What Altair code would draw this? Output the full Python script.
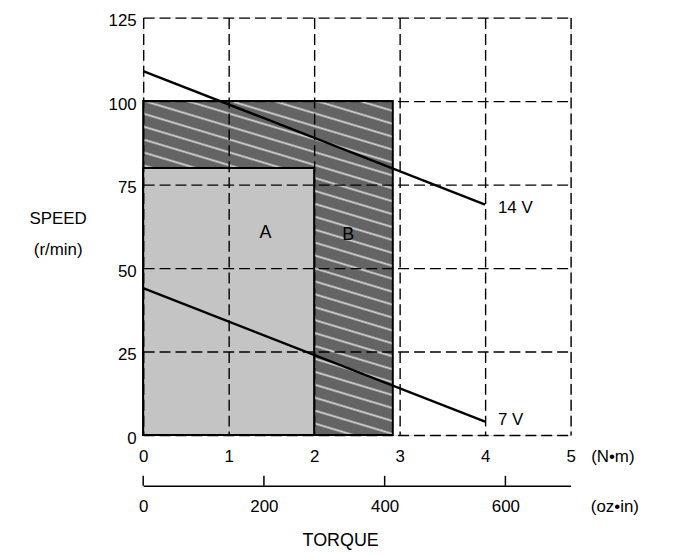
import math
import altair as alt
import pandas as pd

FONT = "Liberation Sans"

# ---------------- data ----------------
nm_ticks = [0, 1, 2, 3, 4, 5]
speed_ticks = [0, 25, 50, 75, 100, 125]
oz_ticks = [0, 200, 400, 600]
oz_max = 708  # 5 N·m expressed in oz·in

line_torque = [0, 4]
speed_14v = [109, 69]
speed_7v = [44, 4]

region_names = ["B", "A"]
region_torque_max = [2.92, 2.0]
region_speed_max = [100, 80]

letter_text = ["A", "B"]
letter_torque = [1.43, 2.4]
letter_speed = [60.5, 60]

volt_text = ["14 V", "7 V"]
volt_torque = [4.15, 4.15]
volt_speed = [68, 4.5]

# ---------------- tables ----------------
lines_df = pd.DataFrame({
    "t": line_torque * 2,
    "s": speed_14v + speed_7v,
    "v": ["14 V"] * 2 + ["7 V"] * 2,
})
regions_df = pd.DataFrame({
    "name": region_names,
    "t0": [0, 0],
    "t1": region_torque_max,
    "s0": [0, 0],
    "s1": region_speed_max,
})
letters_df = pd.DataFrame({"t": letter_torque, "s": letter_speed, "txt": letter_text})
volts_df = pd.DataFrame({"t": volt_torque, "s": volt_speed, "txt": volt_text})
oz_df = pd.DataFrame({"oz": oz_ticks})
torque_df = pd.DataFrame({"txt": ["TORQUE"]})

# ---------------- scales / axes ----------------
W, H = 430, 420
xs = alt.Scale(domain=[0, 5], nice=False, zero=True)
ys = alt.Scale(domain=[0, 125], nice=False, zero=True)

common = dict(
    labelFont=FONT, labelFontSize=17, labelColor="black",
    titleFont=FONT, titleFontSize=17, titleColor="black", titleFontWeight="normal",
    ticks=False, tickSize=0, domain=False, labelFlush=False, labelOverlap=False,
)

xaxis = alt.Axis(
    values=nm_ticks, title="(N\u2022m)", titleX=472, titleY=21.5,
    titleAlign="center", titleBaseline="middle", titleAngle=0,
    labelPadding=13.4, labelAngle=0,
    grid=True, gridDash=[11, 5], gridColor="black", gridWidth=1.4, gridOpacity=1,
    zindex=1, **common,
)
yaxis = alt.Axis(
    values=speed_ticks, title=["SPEED", "(r/min)"], titleAngle=0,
    titleX=-86, titleY=193.7, titleAlign="center", titleBaseline="top",
    titleLineHeight=31.6, labelPadding=7, labelOffset=3,
    grid=True, gridDash=[11, 5], gridColor="black", gridWidth=1.4, gridOpacity=1,
    zindex=1, **common,
)


def X(field):
    return alt.X(field, type="quantitative", scale=xs, axis=xaxis)


def Y(field):
    return alt.Y(field, type="quantitative", scale=ys, axis=yaxis)


# striped fill for region B (style only)
rW, rH = 251.0, 336.0
slope, period_px = 0.30, 13.0
r = slope * rW / rH
d2 = r * r + 1
s = (1 + r) / d2
dt = (period_px / rH) / (s * d2)
dark, light = "#646464", "#d6d6d6"
stops = []
k = 0
while k * dt < 1:
    base = k * dt
    for frac, col in [(0.0, dark), (0.62, dark), (0.76, light), (0.90, dark)]:
        off = base + frac * dt
        if off <= 1:
            stops.append({"offset": round(off, 5), "color": col})
    k += 1
stripe_fill = {"gradient": "linear", "stops": stops,
               "x1": 1, "y1": 0, "x2": round(1 - r * s, 4), "y2": round(s, 4)}

rect_b = alt.Chart(regions_df).transform_filter(alt.datum.name == "B").mark_rect(
    fill=stripe_fill, stroke="black", strokeWidth=2
).encode(x=X("t0"), x2="t1:Q", y=Y("s0"), y2="s1:Q")

rect_a = alt.Chart(regions_df).transform_filter(alt.datum.name == "A").mark_rect(
    fill="#c4c4c4", stroke="black", strokeWidth=2
).encode(x=X("t0"), x2="t1:Q", y=Y("s0"), y2="s1:Q")

lines = alt.Chart(lines_df).mark_line(color="black", strokeWidth=2.4).encode(
    x=X("t"), y=Y("s"), detail="v:N"
)

letters = alt.Chart(letters_df).mark_text(
    font=FONT, fontSize=18, color="black", align="center", baseline="middle"
).encode(x=X("t"), y=Y("s"), text="txt:N")

volts = alt.Chart(volts_df).mark_text(
    font=FONT, fontSize=17, color="black", align="left", baseline="middle"
).encode(x=X("t"), y=Y("s"), text="txt:N")

torque_title = alt.Chart(torque_df).mark_text(
    font=FONT, fontSize=18, color="black", align="center", baseline="middle"
).encode(x=alt.value(198.7), y=alt.value(527), text="txt:N")

main = alt.layer(rect_b, rect_a, lines, letters, volts, torque_title)

ozaxis = alt.Axis(
    values=oz_ticks, orient="bottom", offset=51, title="(oz\u2022in)",
    titleX=474, titleY=21, titleAlign="center", titleBaseline="middle",
    labelPadding=13, labelAngle=0, grid=False,
    labelFont=FONT, labelFontSize=17, labelColor="black",
    titleFont=FONT, titleFontSize=17, titleColor="black", titleFontWeight="normal",
    ticks=False, tickSize=0, domain=True, domainColor="black", domainWidth=1.5,
    labelFlush=False, labelOverlap=False,
)
oz_layer = alt.Chart(oz_df).mark_rule(color="black", strokeWidth=1.5).encode(
    x=alt.X("oz:Q", scale=alt.Scale(domain=[0, oz_max], nice=False, zero=True), axis=ozaxis),
    y=alt.value(H + 41),
    y2=alt.value(H + 51),
)

chart = alt.layer(main, oz_layer).resolve_scale(x="independent").properties(
    width=W, height=H,
    padding={"left": 136, "top": 8, "right": 100, "bottom": 118},
    autosize=alt.AutoSizeParams(type="none"),
    background="white",
).configure_view(stroke="black", strokeWidth=1.5).configure(font=FONT)

chart.save("out.html", embed_options={"renderer": "svg", "actions": False})
